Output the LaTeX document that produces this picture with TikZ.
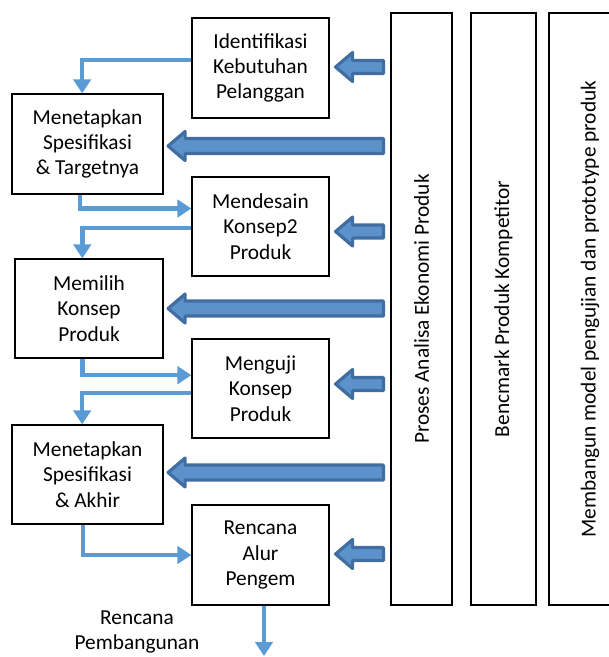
\documentclass[tikz,border=0pt]{standalone}
\usepackage{fontspec}
\setmainfont{Carlito}
\usepackage{tikz}
\usetikzlibrary{positioning}
\usetikzlibrary{arrows.meta, calc}

\definecolor{flowblue}{RGB}{91,155,213}
\definecolor{arrowfill}{RGB}{91,146,203}
\definecolor{arrowline}{RGB}{65,109,161}

\tikzset{
    stage/.style={draw, line width=0.9pt, align=center, inner sep=0pt,
        font=\fontsize{16}{19}\selectfont},
    lane/.style={draw, line width=0.9pt, inner sep=0pt,
        font=\fontsize{16}{19}\selectfont},
    flow/.style={draw=flowblue, line width=3.4pt,
        -{Triangle[width=13pt,length=10.5pt]}},
    fatarrow/.style={draw=arrowline, fill=arrowfill, line width=2.4pt,
        line join=round}
}

% block arrow: #1 shaft half width, #2 tip, starts at the lane
\newcommand{\blockarrow}[2]{%
    \draw[fatarrow] ($(proses.west |- #2)+(-7,#1)$) -- ($(#2)+(17,#1)$) -- ($(#2)+(17,14.5)$)
        -- (#2) -- ($(#2)+(17,-14.5)$) -- ($(#2)+(17,-#1)$)
        -- ($(proses.west |- #2)+(-7,-#1)$) -- cycle;}

\begin{document}
\begin{tikzpicture}[x=0.75pt, y=-0.75pt]
    \useasboundingbox (0,0) rectangle (608,657);

    % lanes on the right
    \node[lane, minimum width=45.75pt, minimum height=444pt] (proses) at (421.5,309) {};
    \node[rotate=90, font=\fontsize{16}{19}\selectfont] at (proses) {Proses Analisa Ekonomi Produk};
    \node[lane, minimum width=48.75pt, minimum height=444pt] (bench) at (503.5,309) {};
    \node[rotate=90, font=\fontsize{16}{19}\selectfont] at (bench) {Bencmark Produk Kompetitor};
    \node[lane, minimum width=48pt, minimum height=444pt] (proto) at (581,309) {};
    \node[rotate=90, font=\fontsize{16}{19}\selectfont] at (590,309) {Membangun model pengujian dan prototype produk};

    % stages
    \node[stage, minimum width=102.75pt, minimum height=75pt] (ident) at (260.5,68) {Identifikasi\\Kebutuhan\\Pelanggan};
    \node[stage, minimum width=113.25pt, minimum height=75pt] (spec1) at (87.5,144) {Menetapkan\\Spesifikasi\\\& Targetnya};
    \node[stage, minimum width=102.75pt, minimum height=74.25pt] (desain) at (260.5,226.5) {Mendesain\\Konsep2\\Produk};
    \node[stage, minimum width=111pt, minimum height=74.25pt] (pilih) at (89,308.5) {Memilih\\Konsep\\Produk};
    \node[stage, minimum width=102.75pt, minimum height=74.25pt] (uji) at (260.5,388.5) {Menguji\\Konsep\\Produk};
    \node[stage, minimum width=113.25pt, minimum height=74.25pt] (spec2) at (87.5,474.5) {Menetapkan\\Spesifikasi\\\& Akhir};
    \node[stage, minimum width=102.75pt, minimum height=75pt] (rencana) at (260.5,555) {Rencana\\Alur\\Pengem};

    % output
    \coordinate (out) at (264,656);
    \node[align=center, font=\fontsize{16}{19}\selectfont] (hasil) at (137,632) {Rencana\\Pembangunan};

    % flow between stages
    \draw[flow] ([yshift=6pt]ident.west) -| ([xshift=-4pt]spec1.north);
    \draw[flow] ([xshift=-5.5pt]spec1.south) |- ([yshift=13.5pt]desain.west);
    \draw[flow] ([yshift=-1pt]desain.west) -| ([xshift=-5pt]pilih.north);
    \draw[flow] ([xshift=-5pt]pilih.south) |- ([yshift=10pt]uji.west);
    \draw[flow] ([yshift=-3.5pt]uji.west) -| ([xshift=-4pt]spec2.north);
    \draw[flow] ([xshift=-3.5pt]spec2.south) |- (rencana.west);
    \draw[flow] (rencana.south -| out) -- (out);

    % inputs from the economic analysis
    \coordinate (in1) at ($(ident.east)+(6,-1)$);
    \coordinate (in2) at ($(spec1.east)+(4.5,2)$);
    \coordinate (in3) at ($(desain.east)+(6,5)$);
    \coordinate (in4) at ($(pilih.east)+(4.5,0)$);
    \coordinate (in5) at ($(uji.east)+(6,-4.5)$);
    \coordinate (in6) at ($(spec2.east)+(4.5,-2)$);
    \coordinate (in7) at ($(rencana.east)+(6,-1)$);
    \blockarrow{6.5}{in1}
    \blockarrow{7.5}{in2}
    \blockarrow{6.5}{in3}
    \blockarrow{7.5}{in4}
    \blockarrow{6.5}{in5}
    \blockarrow{7.5}{in6}
    \blockarrow{6.5}{in7}
\end{tikzpicture}
\end{document}
